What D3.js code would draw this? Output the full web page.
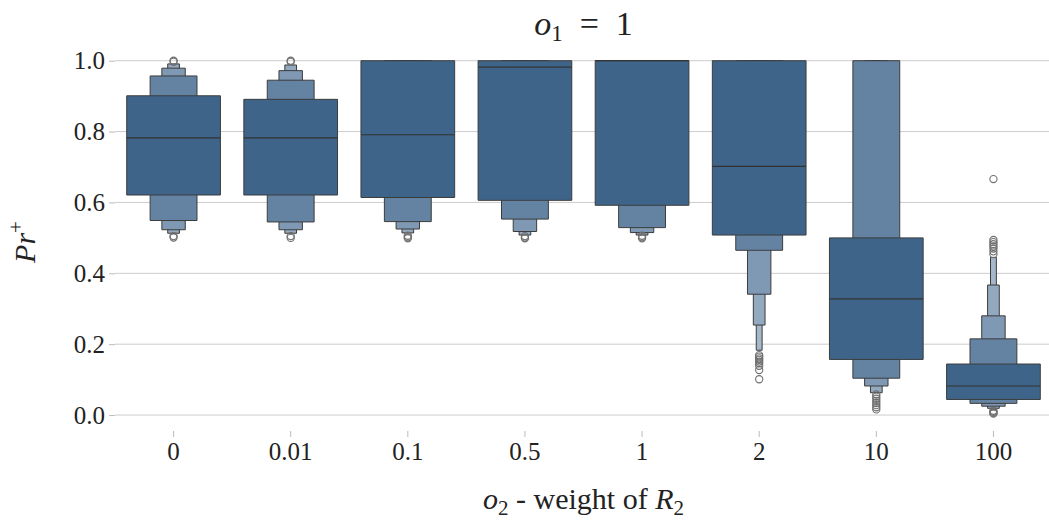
<!DOCTYPE html>
<html>
<head>
<meta charset="utf-8">
<script src="https://cdn.jsdelivr.net/npm/d3@7"></script>
<style>
  body { margin: 0; background: #fff; }
  text { font-family: "Liberation Serif", "DejaVu Serif", serif; fill: #222; }
</style>
</head>
<body>
<svg id="chart"></svg>
<script>
const categories = ["0", "0.01", "0.1", "0.5", "1", "2", "10", "100"];
const medians = [0.782, 0.782, 0.791, 0.982, 1.0, 0.702, 0.328, 0.082];
// letter-value boxes, from the inner (IQR) box outward
const lowerBounds = [
	[0.621, 0.549, 0.523, 0.513],
	[0.621, 0.545, 0.523, 0.513],
	[0.614, 0.546, 0.525, 0.514],
	[0.606, 0.553, 0.518, 0.508],
	[0.592, 0.529, 0.515, 0.508],
	[0.508, 0.465, 0.341, 0.254, 0.183],
	[0.157, 0.104, 0.082, 0.063],
	[0.044, 0.033, 0.025, 0.019, 0.015]
];
const upperBounds = [
	[0.901, 0.957, 0.979, 0.991],
	[0.891, 0.945, 0.972, 0.988],
	[1.0, 1.0, 1.0, 1.0],
	[1.0, 1.0, 1.0, 1.0],
	[1.0, 1.0, 1.0, 1.0],
	[1.0, 1.0, 1.0, 1.0, 1.0],
	[0.5, 1.0, 1.0, 1.0],
	[0.144, 0.215, 0.28, 0.367, 0.445]
];
const outliers = [
	[1.0, 0.997, 0.505, 0.501],
	[1.0, 0.997, 0.505, 0.5],
	[0.506, 0.502, 0.499],
	[0.505, 0.501, 0.499],
	[0.506, 0.502, 0.499],
	[0.169, 0.165, 0.16, 0.156, 0.151, 0.146, 0.139, 0.127, 0.101],
	[0.058, 0.052, 0.046, 0.04, 0.034, 0.028, 0.022, 0.016],
	[0.666, 0.494, 0.488, 0.482, 0.476, 0.47, 0.462, 0.454, 0.012, 0.009, 0.006, 0.004]
];
const yTicks = [0, 0.2, 0.4, 0.6, 0.8, 1.0];
const levelColors = ["#3e6589", "#6483a2", "#7f98b4", "#93a9c0", "#a5b7ca"];

const w = 1049, h = 523;
const margin = {top: 43, right: -3, bottom: 92, left: 115};

const svg = d3.select('#chart')
	.attr('width', w)
	.attr('height', h)
	.attr('viewBox', [0, 0, w, h]);

const xScale = d3.scaleBand()
	.domain(categories)
	.range([margin.left, w - margin.right])
	.paddingInner(0)
	.paddingOuter(0);

const yScale = d3.scaleLinear()
	.domain([-0.045, 1.05])
	.range([h - margin.bottom, margin.top]);

// grid
svg.append('g')
	.selectAll('line')
	.data(yTicks)
	.enter()
	.append('line')
		.attr('x1', margin.left)
		.attr('x2', w)
		.attr('y1', d => yScale(d))
		.attr('y2', d => yScale(d))
		.attr('stroke', '#cccccc')
		.attr('stroke-width', 1);

// y axis
const yAxis = d3.axisLeft(yScale)
	.tickValues(yTicks)
	.tickFormat(d3.format('.1f'))
	.tickSize(6)
	.tickPadding(4);
const gy = svg.append('g')
	.attr('transform', `translate(${margin.left},0)`)
	.call(yAxis);
gy.select('.domain').remove();
gy.selectAll('.tick line').attr('stroke', '#bbbbbb');
gy.selectAll('.tick text').attr('font-size', 25).attr('fill', '#222');

// x axis
const xAxis = d3.axisBottom(xScale)
	.tickSize(6)
	.tickPadding(5);
const gx = svg.append('g')
	.attr('transform', `translate(0,${h - margin.bottom})`)
	.call(xAxis);
gx.select('.domain').remove();
gx.selectAll('.tick line').attr('stroke', '#bbbbbb');
gx.selectAll('.tick text').attr('font-size', 25).attr('fill', '#222');

// boxen boxes
const bw = xScale.bandwidth() * 0.8;
const boxes = [];
categories.forEach((c, i) => {
	lowerBounds[i].forEach((lo, k) => {
		boxes.push({cat: c, level: k, lo: lo, hi: upperBounds[i][k]});
	});
});
boxes.sort((a, b) => b.level - a.level);

const boxPath = d => {
	const cx = xScale(d.cat) + xScale.bandwidth() / 2;
	const half = bw / Math.pow(2, d.level) / 2;
	const y0 = yScale(d.hi), y1 = yScale(d.lo);
	return `M${cx - half},${y0}H${cx + half}V${y1}H${cx - half}Z`;
};

svg.append('g')
	.selectAll('path.box')
	.data(boxes)
	.enter()
	.append('path')
		.classed('box', true)
		.attr('d', boxPath)
		.attr('fill', d => levelColors[d.level])
		.attr('stroke', '#3c3c3c')
		.attr('stroke-width', 1);

// medians
svg.append('g')
	.selectAll('line')
	.data(categories)
	.enter()
	.append('line')
		.attr('x1', d => xScale(d) + xScale.bandwidth() / 2 - bw / 2)
		.attr('x2', d => xScale(d) + xScale.bandwidth() / 2 + bw / 2)
		.attr('y1', (d, i) => yScale(medians[i]))
		.attr('y2', (d, i) => yScale(medians[i]))
		.attr('stroke', '#333')
		.attr('stroke-width', 1.2);

// outliers
const pts = [];
categories.forEach((c, i) => outliers[i].forEach(v => pts.push({cat: c, v: v})));
svg.append('g')
	.selectAll('circle')
	.data(pts)
	.enter()
	.append('circle')
		.attr('cx', d => xScale(d.cat) + xScale.bandwidth() / 2)
		.attr('cy', d => yScale(d.v))
		.attr('r', 3.6)
		.attr('fill', 'none')
		.attr('stroke', '#6f6f6f')
		.attr('stroke-width', 1.1);

// title and labels
const midX = (margin.left + w - margin.right) / 2;
const title = svg.append('text')
	.attr('x', midX)
	.attr('y', 35)
	.attr('text-anchor', 'middle')
	.attr('font-size', 34);
title.append('tspan').attr('font-style', 'italic').text('o');
title.append('tspan').attr('font-size', 23).attr('dy', 6).text('1');
title.append('tspan').attr('dy', -6).text('\u2002=\u20021');

const xl = svg.append('text')
	.attr('x', midX)
	.attr('y', 509)
	.attr('text-anchor', 'middle')
	.attr('font-size', 30);
xl.append('tspan').attr('font-style', 'italic').text('o');
xl.append('tspan').attr('font-size', 21).attr('dy', 6).text('2');
xl.append('tspan').attr('dy', -6).text(' - weight of ');
xl.append('tspan').attr('font-style', 'italic').text('R');
xl.append('tspan').attr('font-size', 21).attr('dy', 6).text('2');

const yl = svg.append('text')
	.attr('transform', 'translate(35,242) rotate(-90)')
	.attr('text-anchor', 'middle')
	.attr('font-size', 30);
yl.append('tspan').attr('font-style', 'italic').text('Pr');
yl.append('tspan').attr('font-size', 21).attr('dy', -12).text('+');
</script>
</body>
</html>
